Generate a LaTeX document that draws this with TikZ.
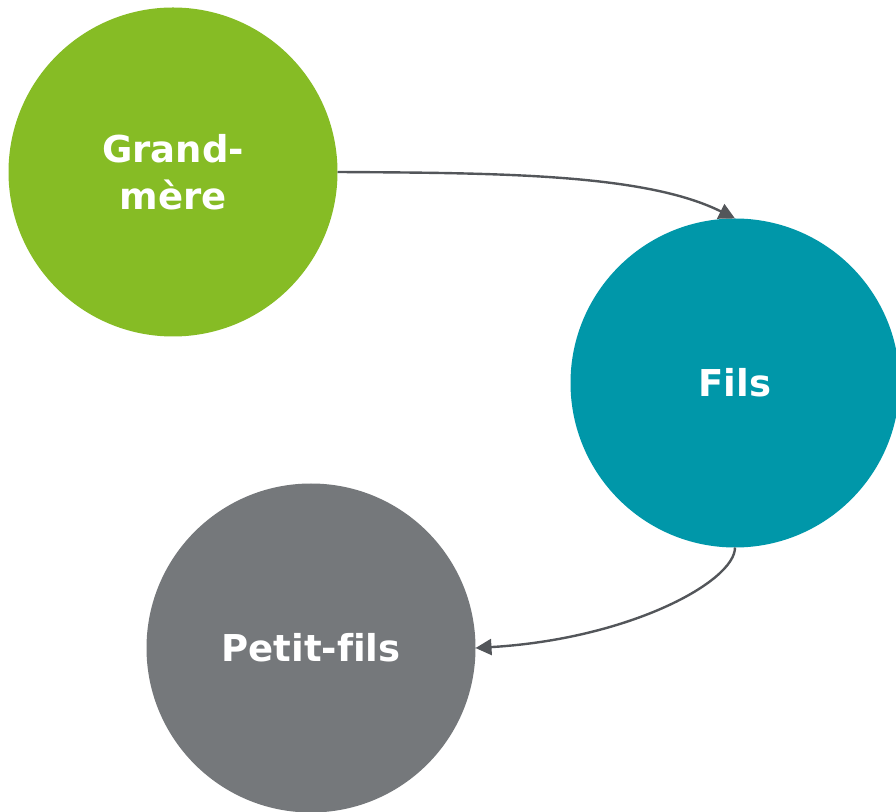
\documentclass[tikz,border=0pt]{standalone}
\usepackage{fontspec}
\setmainfont{DejaVu Sans}[Ligatures=NoCommon]
\usepackage{tikz}
\usetikzlibrary{arrows.meta}

\definecolor{gmgreen}{HTML}{86BC25}
\definecolor{filsteal}{HTML}{0097A9}
\definecolor{pfgrey}{HTML}{75787B}
\definecolor{linkgrey}{HTML}{53565A}

\begin{document}
\begin{tikzpicture}[x=1pt,y=1pt,
		person/.style={circle, draw=none, outer sep=0pt, minimum size=329pt,
			text=white, align=center, font=\bfseries\fontsize{37}{47}\selectfont},
		link/.style={linkgrey, line width=2.4pt, -{Triangle[length=16pt,width=16pt]}}]
		
		% page frame
		\useasboundingbox (0,0) rectangle (896,811);
		
		%--- the three generations ---
		\node[person, fill=gmgreen]  (grandmere) at (173,639) {Grand-\\mère};
		\node[person, fill=filsteal] (fils)      at (735,428) {Fils};
		\node[person, fill=pfgrey]   (petitfils) at (311,163) {Petit-fils};
		
		%--- links ---
		\draw[link] (grandmere.east) .. controls +(160,-1) and +(-90,45) .. (fils.north);
		\draw[link] (fils.south) .. controls +(0,-34) and +(154,9) .. (petitfils.east);
		
	\end{tikzpicture}
\end{document}
